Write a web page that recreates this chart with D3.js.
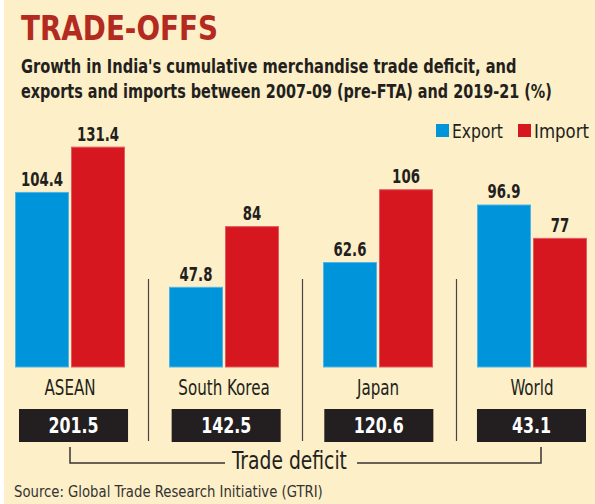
<!DOCTYPE html>
<html>
<head>
<meta charset="utf-8">
<script src="https://cdn.jsdelivr.net/npm/d3@7"></script>
<style>
  html, body { margin: 0; padding: 0; background: #ffffff; }
  svg { display: block; }
  text { font-family: "Liberation Sans Narrow", "DejaVu Sans Condensed", "Arial Narrow", sans-serif; }
</style>
</head>
<body>
<svg id="chart" width="595" height="504"></svg>
<script>
// ---- data ----
const categories = ["ASEAN", "South Korea", "Japan", "World"];
const seriesNames = ["Export", "Import"];
const exportGrowth = [104.4, 47.8, 62.6, 96.9];
const importGrowth = [131.4, 84, 106, 77];
const tradeDeficit = [201.5, 142.5, 120.6, 43.1];
const titleText = "TRADE-OFFS";
const subtitleLines = [
  "Growth in India's cumulative merchandise trade deficit, and",
  "exports and imports between 2007-09 (pre-FTA) and 2019-21 (%)"
];
const deficitLabel = "Trade deficit";
const sourceText = "Source: Global Trade Research Initiative (GTRI)";

// ---- styles ----
const W = 595, H = 504;
const BG = "#FDEFC7";
const INK = "#231F20";
const colors = { Export: "#0095DA", Import: "#D7171F" };
const strokes = { Export: "#4DB6E8", Import: "#E35A5F" };

const svg = d3.select("#chart");

// horizontal condensing via transform (keeps the text's real box)
function hscale(sel, k) {
  sel.each(function () {
    const t = d3.select(this);
    const x = +t.attr("x") || 0, y = +t.attr("y") || 0;
    t.attr("x", 0).attr("y", 0).attr("transform", `translate(${x},${y}) scale(${k},1)`);
  });
}
function fitWidth(sel, w) {
  sel.each(function () {
    const len = this.getComputedTextLength();
    hscale(d3.select(this), w / len);
  });
}

// background
svg.append("rect").attr("x", 0).attr("y", 0).attr("width", W).attr("height", H).attr("fill", "#ffffff");
svg.append("rect").attr("x", 4).attr("y", 0).attr("width", W - 4).attr("height", H).attr("fill", BG);

// title
svg.append("text").attr("x", 21).attr("y", 39.5)
  .attr("font-size", 34).attr("font-weight", 700).attr("fill", "#B32A20")
  .text(titleText).call(fitWidth, 197);

// subtitle
const subWidths = [496, 531];
svg.selectAll("text.sub").data(subtitleLines).join("text")
  .attr("class", "sub")
  .attr("x", 21).attr("y", (d, i) => 72.5 + i * 25)
  .attr("font-size", 20).attr("font-weight", 700).attr("fill", INK)
  .text(d => d)
  .each(function (d, i) { fitWidth(d3.select(this), subWidths[i]); });

// scales
const x0 = d3.scaleBand().domain(categories).range([15, 587]).paddingInner(0.2857).paddingOuter(0);
const x1 = d3.scaleBand().domain(seriesNames).range([0, x0.bandwidth()]).paddingInner(0.036);
const y = d3.scaleLinear().domain([0, 140]).range([367, 367 - 140 * 1.677]);
const xBox = d3.scaleBand().domain(categories).range([19, 586]).paddingInner(0.2857).paddingOuter(0);

const rows = categories.map((c, i) => ({
  cat: c,
  values: [
    { key: "Export", value: exportGrowth[i] },
    { key: "Import", value: importGrowth[i] }
  ],
  deficit: tradeDeficit[i]
}));

// dividers
const gap = x0.step() - x0.bandwidth();
svg.selectAll("line.div").data(categories.slice(1)).join("line")
  .attr("class", "div")
  .attr("x1", d => x0(d) - gap / 2 + 1.5).attr("x2", d => x0(d) - gap / 2 + 1.5)
  .attr("y1", 279).attr("y2", 441)
  .attr("stroke", "#4a4545").attr("stroke-width", 1.2);

// bars
const groups = svg.selectAll("g.grp").data(rows).join("g")
  .attr("class", "grp")
  .attr("transform", d => `translate(${x0(d.cat)},0)`);

groups.selectAll("rect").data(d => d.values).join("rect")
  .attr("x", d => x1(d.key) + 0.5)
  .attr("y", d => y(d.value) + 0.5)
  .attr("width", x1.bandwidth() - 1)
  .attr("height", d => y(0) - y(d.value) - 0.5)
  .attr("fill", d => colors[d.key])
  .attr("stroke", d => strokes[d.key])
  .attr("stroke-width", 1);

groups.selectAll("text.val").data(d => d.values).join("text")
  .attr("class", "val")
  .attr("x", d => x1(d.key) + x1.bandwidth() / 2)
  .attr("y", d => y(d.value) - 6)
  .attr("text-anchor", "middle")
  .attr("font-size", 20).attr("font-weight", 700).attr("fill", INK)
  .text(d => String(d.value))
  .call(hscale, 0.74);

// category labels
svg.selectAll("text.cat").data(categories).join("text")
  .attr("class", "cat")
  .attr("x", d => x0(d) + x0.bandwidth() / 2)
  .attr("y", 395)
  .attr("text-anchor", "middle")
  .attr("font-size", 21).attr("fill", INK)
  .text(d => d)
  .call(hscale, 0.8);

// deficit boxes
svg.selectAll("rect.box").data(rows).join("rect")
  .attr("class", "box")
  .attr("x", d => xBox(d.cat)).attr("y", 409)
  .attr("width", xBox.bandwidth()).attr("height", 33)
  .attr("fill", INK);

svg.selectAll("text.box").data(rows).join("text")
  .attr("class", "box")
  .attr("x", d => xBox(d.cat) + xBox.bandwidth() / 2)
  .attr("y", 433)
  .attr("text-anchor", "middle")
  .attr("font-size", 22).attr("font-weight", 700).attr("fill", "#ffffff")
  .text(d => String(d.deficit))
  .call(hscale, 0.8);

// bracket
const bx1 = 70, bx2 = 541, byTop = 447, byBot = 463;
svg.append("path")
  .attr("d", `M${bx1},${byTop} V${byBot} H225`)
  .attr("fill", "none").attr("stroke", "#3a3535").attr("stroke-width", 1.5);
svg.append("path")
  .attr("d", `M357,${byBot} H${bx2} V${byTop}`)
  .attr("fill", "none").attr("stroke", "#3a3535").attr("stroke-width", 1.5);
svg.append("text").attr("x", 232).attr("y", 469)
  .attr("font-size", 24).attr("fill", INK)
  .text(deficitLabel).call(fitWidth, 115);

// legend
const legendX = { Export: 436, Import: 518 };
const legendW = { Export: 51, Import: 55 };
const lg = svg.selectAll("g.lg").data(seriesNames).join("g").attr("class", "lg");
lg.append("rect")
  .attr("x", d => legendX[d]).attr("y", 124)
  .attr("width", 13).attr("height", 13)
  .attr("fill", d => colors[d]);
lg.append("text")
  .attr("x", d => legendX[d] + 16).attr("y", 137.5)
  .attr("font-size", 20).attr("fill", INK)
  .text(d => d)
  .each(function (d) { fitWidth(d3.select(this), legendW[d]); });

// source
svg.append("text").attr("x", 14).attr("y", 497)
  .attr("font-size", 16.5).attr("fill", "#333")
  .text(sourceText).call(fitWidth, 309);
</script>
</body>
</html>
